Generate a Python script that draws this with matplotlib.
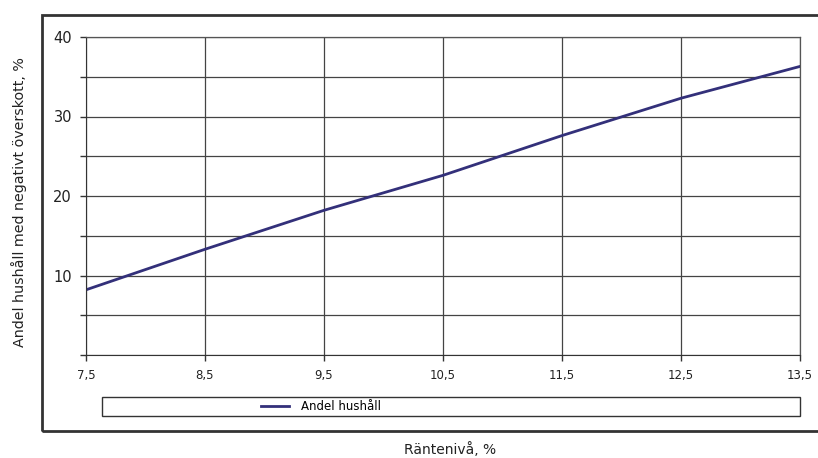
import matplotlib.pyplot as plt
from matplotlib.patches import Rectangle
from matplotlib.ticker import FixedLocator

# interest rate level vs share of households with negative surplus
rates = [7.5, 8.5, 9.5, 10.5, 11.5, 12.5, 13.5]
andel = [8.2, 13.3, 18.2, 22.6, 27.6, 32.3, 36.3]
xtick_labels = ['7,5', '8,5', '9,5', '10,5', '11,5', '12,5', '13,5']

plt.rcParams['font.family'] = 'DejaVu Sans'

fig = plt.figure(figsize=(8.18, 4.58), dpi=100)
ax = fig.add_axes([86/818, 103/458, 714/818, 318/458])

# outer frame around the chart
fig.patches.append(Rectangle((42/818, 27/458), 800/818, 416/458, transform=fig.transFigure,
                             fill=False, edgecolor='#333333', linewidth=2, clip_on=False))

line, = ax.plot(rates, andel, color='#33307a', linewidth=2, label='Andel hushåll')

ax.set_xlim(7.5, 13.5)
ax.set_ylim(0, 40)
ax.xaxis.set_major_locator(FixedLocator(rates))
ax.set_xticklabels(xtick_labels, fontsize=8.5, color='#222222')
ax.set_yticks([0, 5, 10, 15, 20, 25, 30, 35, 40])
ax.set_yticklabels(['', '', '10', '', '20', '', '30', '', '40'], fontsize=10.5, color='#222222')
ax.tick_params(length=4, width=1, color='#333333', pad=6)
ax.grid(True, color='#444444', linewidth=0.9)
ax.set_axisbelow(True)

for side in ['top', 'right']:
    ax.spines[side].set_color('#555555')
    ax.spines[side].set_linewidth(0.9)
ax.spines['left'].set_color('#333333')
ax.spines['bottom'].set_color('#333333')

ax.set_ylabel('Andel hushåll med negativt överskott, %', fontsize=10.3, color='#222222')
ax.yaxis.set_label_coords(-0.082, 0.48)
fig.text(450/818, 1 - 450/458, 'Räntenivå, %', ha='center', va='center', fontsize=10, color='#222222')

# legend bar below the axes
fig.patches.append(Rectangle((102/818, 1 - 416/458), 698/818, 19/458, transform=fig.transFigure,
                             fill=False, edgecolor='#333333', linewidth=1))
fig.legend(handles=[line], loc='center left', bbox_to_anchor=(250/818, 1 - 406.5/458),
           frameon=False, fontsize=8.5, handlelength=2.4, handletextpad=1.0)

fig.savefig('out.png', dpi=100)
